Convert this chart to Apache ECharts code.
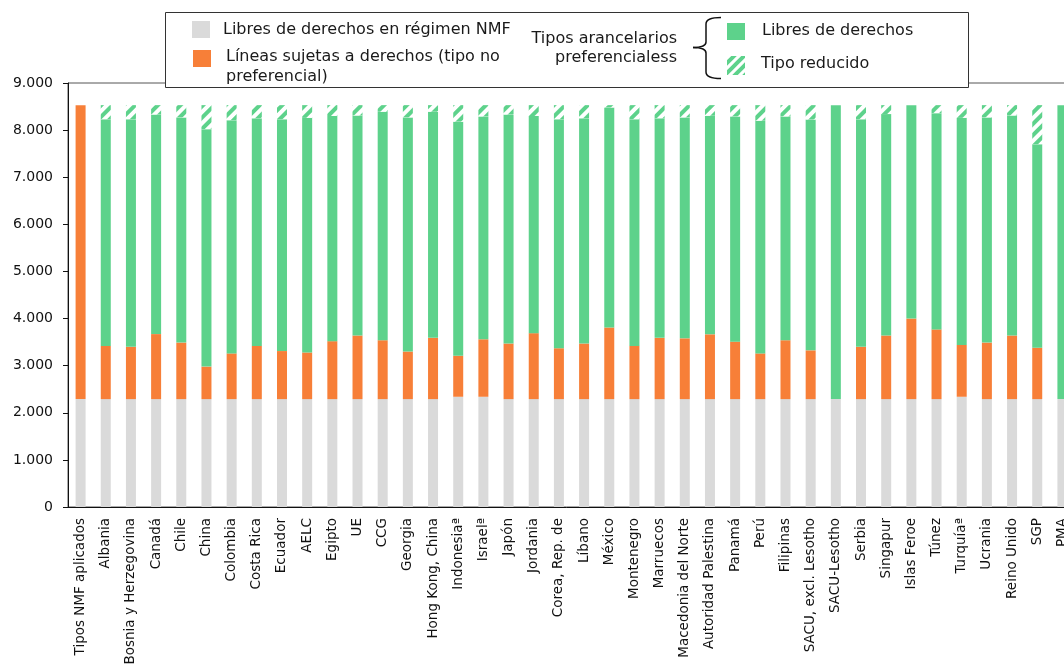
<!DOCTYPE html>
<html>
<head>
<meta charset="utf-8">
<script src="https://cdn.jsdelivr.net/npm/echarts@6/dist/echarts.min.js"></script>
<style>
html,body{margin:0;padding:0;background:#fff;}
#chart{width:1064px;height:666px;}
</style>
</head>
<body>
<div id="chart"></div>
<script>
const categories = ["Tipos NMF aplicados","Albania","Bosnia y Herzegovina","Canadá","Chile","China","Colombia","Costa Rica","Ecuador","AELC","Egipto","UE","CCG","Georgia","Hong Kong, China","Indonesiaª","Israelª","Japón","Jordania","Corea, Rep. de","Líbano","México","Montenegro","Marruecos","Macedonia del Norte","Autoridad Palestina","Panamá","Perú","Filipinas","SACU, excl. Lesotho","SACU-Lesotho","Serbia","Singapur","Islas Feroe","Túnez","Turquíaª","Ucrania","Reino Unido","SGP","PMA"];

const libresNMF = [2290,2290,2290,2290,2290,2290,2290,2290,2290,2290,2290,2290,2290,2290,2290,2340,2340,2290,2290,2290,2290,2290,2290,2290,2290,2290,2290,2290,2290,2290,2290,2290,2290,2290,2290,2340,2290,2290,2290,2290];
const sujetas = [6240,1130,1110,1380,1200,690,970,1130,1020,990,1230,1350,1250,1010,1300,870,1220,1180,1400,1080,1180,1520,1130,1300,1290,1375,1220,970,1250,1035,0,1110,1350,1710,1480,1100,1200,1350,1090,0];
const libresPref = [0,4810,4830,4660,4780,5040,4950,4830,4920,4980,4780,4670,4850,4970,4800,4970,4730,4860,4610,4860,4780,4670,4810,4660,4690,4640,4780,4940,4750,4900,6240,4830,4700,4530,4590,4820,4780,4670,4320,6240];
const reducido = [0,300,300,200,260,510,320,280,300,270,230,220,140,260,140,350,240,200,230,300,280,50,300,280,260,225,240,330,240,305,0,300,190,0,170,270,260,220,830,0];

const yTicks = {min: 0, max: 9000, interval: 1000};
const legendTexts = {
  gray: "Libres de derechos en régimen NMF",
  orange: "Líneas sujetas a derechos (tipo no\npreferencial)",
  group: "Tipos arancelarios\npreferencialess",
  green: "Libres de derechos",
  hatch: "Tipo reducido"
};

const C_GRAY = '#dadada', C_ORANGE = '#f77f38', C_GREEN = '#5dd28b';
const FONT = '"DejaVu Sans", Verdana, sans-serif';

// hatch pattern for legend icon
const pc = document.createElement('canvas');
pc.width = 10; pc.height = 10;
const ctx = pc.getContext('2d');
ctx.fillStyle = '#fff'; ctx.fillRect(0,0,10,10);
ctx.strokeStyle = C_GREEN; ctx.lineWidth = 4;
ctx.beginPath();
ctx.moveTo(-5,5); ctx.lineTo(5,-5);
ctx.moveTo(0,10); ctx.lineTo(10,0);
ctx.moveTo(5,15); ctx.lineTo(15,5);
ctx.stroke();

const chart = echarts.init(document.getElementById('chart'), null, {renderer: 'canvas'});
const fmt = v => String(v).replace(/\B(?=(\d{3})+(?!\d))/g, '.');

const barBase = {type: 'bar', stack: 'total', barWidth: 10, animation: false};
const braceStyle = {stroke: '#111', lineWidth: 1.5, fill: 'none'};

chart.setOption({
  animation: false,
  textStyle: {fontFamily: FONT},
  grid: {left: 68, top: 83, width: 1007, height: 424, containLabel: false, outerBoundsMode: 'none', show: true, borderColor: '#555', borderWidth: 1, backgroundColor: 'transparent'},
  xAxis: {
    type: 'category', data: categories,
    axisLine: {lineStyle: {color: '#111', width: 1}},
    axisTick: {length: 5, lineStyle: {color: '#111'}},
    axisLabel: {rotate: 90, interval: 0, fontSize: 13.5, color: '#111', margin: 11, fontFamily: FONT, hideOverlap: false}
  },
  yAxis: {
    type: 'value', min: yTicks.min, max: yTicks.max, interval: yTicks.interval,
    splitLine: {show: false},
    axisLine: {show: true, lineStyle: {color: '#111', width: 1}},
    axisTick: {show: true, length: 5, lineStyle: {color: '#111'}},
    axisLabel: {fontSize: 14, color: '#111', margin: 15, fontFamily: FONT, formatter: fmt}
  },
  series: [
    Object.assign({}, barBase, {name: legendTexts.gray, data: libresNMF, itemStyle: {color: C_GRAY}}),
    Object.assign({}, barBase, {name: 'Líneas sujetas a derechos', data: sujetas, itemStyle: {color: C_ORANGE}}),
    Object.assign({}, barBase, {name: legendTexts.green, data: libresPref, itemStyle: {color: C_GREEN}}),
    Object.assign({}, barBase, {name: legendTexts.hatch, data: reducido, itemStyle: {color: '#fff', decal: {symbol: 'rect', symbolSize: 1, color: C_GREEN, dashArrayX: [1, 0], dashArrayY: [4, 4], rotation: -Math.PI / 4}}})
  ],
  graphic: [
    {type: 'rect', z: 100, shape: {x: 165.5, y: 12.5, width: 803, height: 75}, style: {fill: '#fff', stroke: '#333', lineWidth: 1}},
    {type: 'rect', z: 101, shape: {x: 192, y: 21, width: 18, height: 17}, style: {fill: C_GRAY}},
    {type: 'text', z: 101, x: 223, y: 30, style: {text: legendTexts.gray, font: '16px ' + FONT, fill: '#1a1a1a', verticalAlign: 'middle'}},
    {type: 'rect', z: 101, shape: {x: 193, y: 50, width: 18, height: 17}, style: {fill: C_ORANGE}},
    {type: 'text', z: 101, x: 226, y: 47, style: {text: legendTexts.orange, font: '16px ' + FONT, fill: '#1a1a1a', verticalAlign: 'top', lineHeight: 20}},
    {type: 'text', z: 101, x: 677, y: 29.5, style: {text: legendTexts.group, font: '16px ' + FONT, fill: '#1a1a1a', align: 'right', verticalAlign: 'top', lineHeight: 19}},
    {type: 'bezierCurve', z: 101, shape: {x1: 721, y1: 17.5, cpx1: 706, cpy1: 17.5, x2: 706, y2: 24}, style: braceStyle},
    {type: 'line', z: 101, shape: {x1: 706, y1: 24, x2: 706, y2: 42}, style: braceStyle},
    {type: 'bezierCurve', z: 101, shape: {x1: 706, y1: 42, cpx1: 706, cpy1: 47.5, x2: 693, y2: 47.5}, style: braceStyle},
    {type: 'bezierCurve', z: 101, shape: {x1: 693, y1: 47.5, cpx1: 706, cpy1: 47.5, x2: 706, y2: 53}, style: braceStyle},
    {type: 'line', z: 101, shape: {x1: 706, y1: 53, x2: 706, y2: 72}, style: braceStyle},
    {type: 'bezierCurve', z: 101, shape: {x1: 706, y1: 72, cpx1: 706, cpy1: 78.5, x2: 721, y2: 78.5}, style: braceStyle},
    {type: 'rect', z: 101, shape: {x: 727, y: 23, width: 18, height: 17}, style: {fill: C_GREEN}},
    {type: 'text', z: 101, x: 762, y: 31, style: {text: legendTexts.green, font: '16px ' + FONT, fill: '#1a1a1a', verticalAlign: 'middle'}},
    {type: 'rect', z: 101, shape: {x: 727, y: 56, width: 18, height: 19}, style: {fill: {image: pc, repeat: 'repeat'}}},
    {type: 'text', z: 101, x: 761, y: 64, style: {text: legendTexts.hatch, font: '16px ' + FONT, fill: '#1a1a1a', verticalAlign: 'middle'}}
  ]
});
</script>
</body>
</html>
